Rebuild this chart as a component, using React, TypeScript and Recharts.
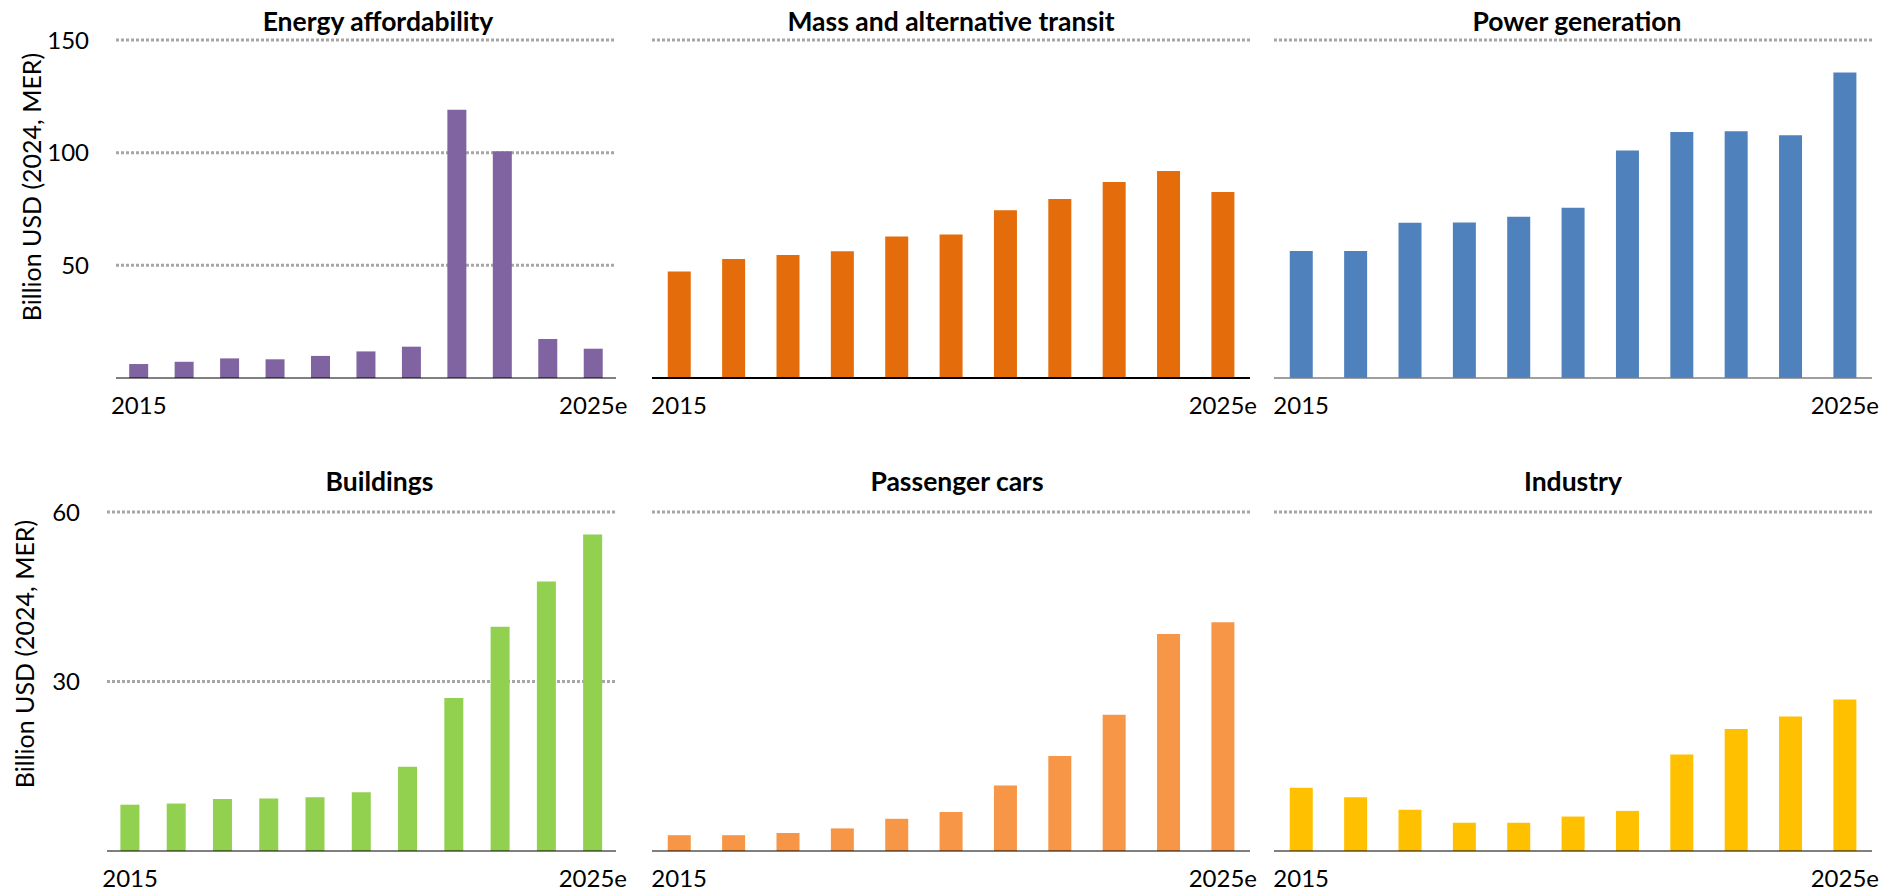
import { BarChart, Bar, XAxis, YAxis, CartesianGrid } from 'recharts'

const years = ['2015', '2016', '2017', '2018', '2019', '2020', '2021', '2022', '2023', '2024', '2025e']

const energyAffordability = [6.2, 7.2, 8.7, 8.3, 9.8, 11.8, 13.9, 119, 100.6, 17.3, 13.0]
const massTransit = [47.3, 52.8, 54.6, 56.3, 62.8, 63.7, 74.5, 79.4, 87.0, 91.9, 82.5]
const powerGeneration = [56.4, 56.4, 68.9, 69.0, 71.6, 75.6, 101.0, 109.2, 109.5, 107.7, 135.6]
const buildings = [8.2, 8.4, 9.2, 9.3, 9.5, 10.4, 14.9, 27.1, 39.7, 47.7, 56.0]
const passengerCars = [2.8, 2.8, 3.2, 4.0, 5.7, 6.9, 11.6, 16.8, 24.1, 38.4, 40.5]
const industry = [11.2, 9.5, 7.3, 5.0, 5.0, 6.1, 7.1, 17.1, 21.6, 23.8, 26.8]

// zero is the axis line, so only the dotted levels are listed
const topTicks = [50, 100, 150]
const bottomTicks = [30, 60]

const yLabel = 'Billion USD (2024, MER)'
const FONT = 'Lato, "Open Sans", sans-serif'

interface PanelProps {
  title: string
  values: number[]
  color: string
  ticks: number[]
  plotX: number
  plotY: number
  plotW: number
  plotH: number
  showTicks?: boolean
  axisColor?: string
  axisWidth?: number
  titleShift?: number
  titleTop: number
}

function Panel({
  title,
  values,
  color,
  ticks,
  plotX,
  plotY,
  plotW,
  plotH,
  showTicks = false,
  axisColor = '#000',
  axisWidth = 1,
  titleShift = 0,
  titleTop
}: PanelProps) {
  const yW = showTicks ? 110 : 0
  const mTop = 24
  const mRight = 30
  const xH = 50
  const data = years.map((year, i) => ({ year, value: values[i] }))
  const last = years.length - 1
  const bottom = mTop + plotH

  // dotted grid, but leave the baseline to the solid axis line
  const gridLine = (props: any) => {
    const { x1, y1, x2, y2, index } = props
    if (Math.abs(y1 - bottom) < 1) return <g key={`h-${index}`} />
    return (
      <line
        key={`h-${index}`}
        x1={x1}
        y1={y1}
        x2={x2}
        y2={y2}
        stroke="#A6A6A6"
        strokeWidth={3}
        strokeDasharray="3 2"
        fill="none"
      />
    )
  }

  return (
    <>
      <div
        style={{
          position: 'absolute',
          left: plotX + titleShift - 50,
          top: titleTop,
          width: plotW + 100,
          height: 30,
          lineHeight: '30px',
          textAlign: 'center',
          fontWeight: 700,
          fontSize: 26.5,
          color: '#000',
          whiteSpace: 'nowrap'
        }}
      >
        {title}
      </div>
      <div style={{ position: 'absolute', left: plotX - yW, top: plotY - mTop }}>
        <BarChart
          width={yW + plotW + mRight}
          height={mTop + plotH + xH}
          data={data}
          margin={{ top: mTop, right: mRight, left: 0, bottom: 0 }}
          barCategoryGap="29%"
        >
          <CartesianGrid vertical={false} horizontal={gridLine} />
          <XAxis
            dataKey="year"
            interval={0}
            height={xH}
            tickLine={false}
            axisLine={{ stroke: axisColor, strokeWidth: axisWidth }}
            tickMargin={13}
            tick={{ fill: '#000', fontSize: 24 }}
            tickFormatter={(v, i) => (i === 0 || i === last ? v : '')}
          />
          <YAxis
            width={yW}
            domain={[0, ticks[ticks.length - 1]]}
            ticks={ticks}
            axisLine={false}
            tickLine={false}
            tick={showTicks ? { fill: '#000', fontSize: 24 } : false}
            tickMargin={21}
          />
          <Bar dataKey="value" fill={color} isAnimationActive={false} />
        </BarChart>
      </div>
    </>
  )
}

function YLabel({ cx, cy }: { cx: number; cy: number }) {
  return (
    <div
      style={{
        position: 'absolute',
        left: cx,
        top: cy,
        transform: 'translate(-50%, -50%) rotate(-90deg)',
        whiteSpace: 'nowrap',
        fontSize: 25,
        color: '#000'
      }}
    >
      {yLabel}
    </div>
  )
}

export default function App() {
  return (
    <div
      style={{
        position: 'absolute',
        left: 0,
        top: 0,
        width: 1901,
        height: 892,
        background: '#fff',
        fontFamily: FONT
      }}
    >
      <YLabel cx={31} cy={187} />
      <YLabel cx={24} cy={654} />

      <Panel title="Energy affordability" values={energyAffordability} color="#8064A2" ticks={topTicks}
        plotX={116} plotY={40} plotW={500} plotH={338} showTicks titleShift={12} titleTop={6} />
      <Panel title="Mass and alternative transit" values={massTransit} color="#E46C0A" ticks={topTicks}
        plotX={652} plotY={40} plotW={598} plotH={338} axisWidth={2} titleTop={6} />
      <Panel title="Power generation" values={powerGeneration} color="#4F81BD" ticks={topTicks}
        plotX={1274} plotY={40} plotW={598} plotH={338} axisColor="#7F7F7F" axisWidth={1.5} titleShift={4} titleTop={6} />

      <Panel title="Buildings" values={buildings} color="#92D050" ticks={bottomTicks}
        plotX={107} plotY={512} plotW={509} plotH={339} showTicks titleShift={18} titleTop={466} />
      <Panel title="Passenger cars" values={passengerCars} color="#F79646" ticks={bottomTicks}
        plotX={652} plotY={512} plotW={598} plotH={339} titleShift={6} titleTop={466} />
      <Panel title="Industry" values={industry} color="#FFC000" ticks={bottomTicks}
        plotX={1274} plotY={512} plotW={598} plotH={339} titleTop={466} />
    </div>
  )
}
